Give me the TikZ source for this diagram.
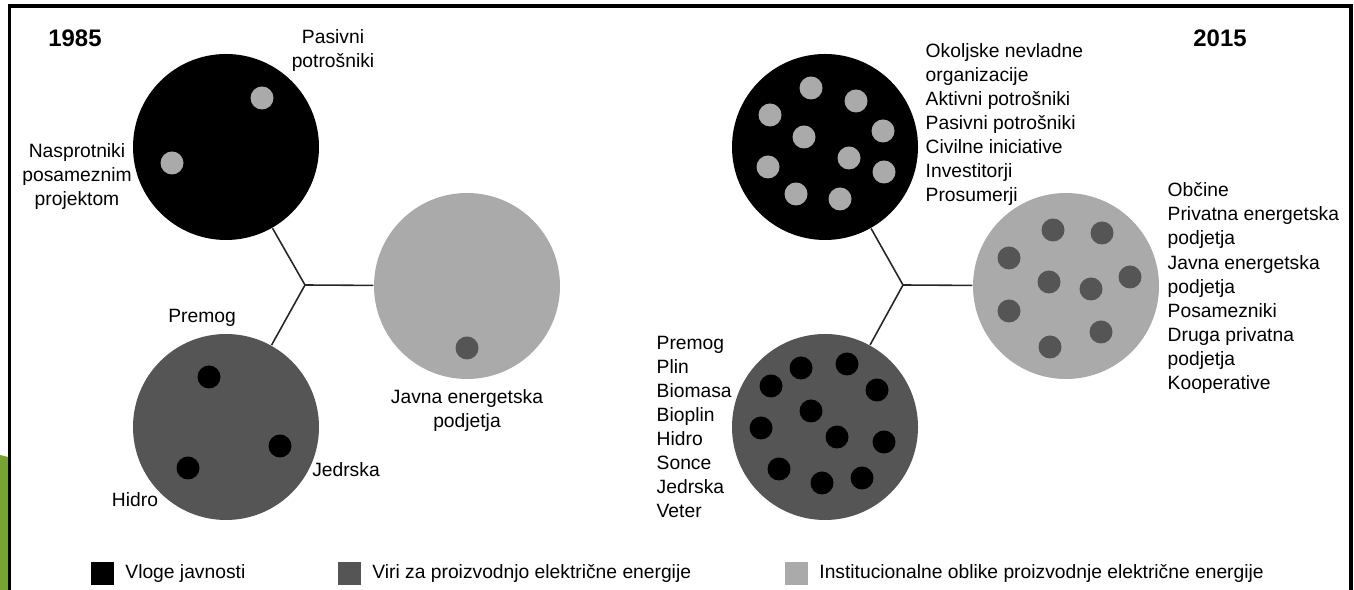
\documentclass[tikz,border=0pt]{standalone}
\usepackage{fontspec}
\setmainfont{Liberation Sans}
\usetikzlibrary{positioning}

\definecolor{srednja}{HTML}{555555}
\definecolor{svetla}{HTML}{AAAAAA}
\definecolor{zelena}{HTML}{76A433}

\tikzset{
  krog/.style={circle, minimum size=1.86cm, inner sep=0pt},
  pika/.style={circle, minimum size=0.23cm, inner sep=0pt},
  kvadrat/.style={minimum size=0.23cm, inner sep=0pt},
  oznaka/.style={font=\fontsize{5.48}{6.83}\selectfont, inner sep=0pt},
  leto/.style={font=\fontsize{6.8}{8}\selectfont\bfseries, inner sep=0pt},
  vez/.style={line width=0.45pt, draw=black!85}
}

\begin{document}
\begin{tikzpicture}
                    \useasboundingbox (0,0) rectangle (13.54,-5.90);
                    \fill[zelena] (0,-4.55)--(0.08,-4.57)--(0.08,-5.90)--(0,-5.90)--cycle;
                    \draw[line width=1.1pt] (0.095,-5.90)--(0.095,-0.06)--(13.51,-0.06)--(13.51,-5.90);
                    % 1985
                    \node[leto] (l85) at (0.75,-0.38) {1985};
                    \node[krog, fill=black] (jav85) at (2.26,-1.47) {};
                    \node[krog, fill=svetla] (ins85) at (4.67,-2.86) {};
                    \node[krog, fill=srednja] (vir85) at (2.26,-4.27) {};
                    \coordinate (st85) at (3.05,-2.85);
                    \draw[vez] (st85)--(jav85);
                    \draw[vez] (st85)--(vir85);
                    \draw[vez] (st85)--(ins85);
                    \foreach \x/\y [count=\i] in {2.62/0.98, 1.72/1.63}
                        \node[pika, fill=svetla] (jp\i) at (\x,-\y) {};
                    \foreach \x/\y [count=\i] in {2.09/3.77, 2.80/4.46, 1.88/4.68}
                        \node[pika, fill=black] (vp\i) at (\x,-\y) {};
                    \node[pika, fill=srednja] (ip1) at (4.67,-3.48) {};
                    \node[oznaka, align=center] (pas85) at (3.33,-0.51) {Pasivni\\potrošniki};
                    \node[oznaka, align=center] (nas85) at (0.77,-1.77) {Nasprotniki\\posameznim\\projektom};
                    \node[oznaka] (pre85) at (2.02,-3.18) {Premog};
                    \node[oznaka] (jed85) at (3.46,-4.70) {Jedrska};
                    \node[oznaka] (hid85) at (1.35,-5.00) {Hidro};
                    \node[oznaka, align=center] (jep85) at (4.67,-4.11) {Javna energetska\\podjetja};
                    % 2015
                    \node[leto] (l15) at (12.20,-0.38) {2015};
                    \node[krog, fill=black] (jav15) at (8.25,-1.47) {};
                    \node[krog, fill=svetla] (ins15) at (10.66,-2.86) {};
                    \node[krog, fill=srednja] (vir15) at (8.25,-4.27) {};
                    \coordinate (st15) at (9.03,-2.85);
                    \draw[vez] (st15)--(jav15);
                    \draw[vez] (st15)--(vir15);
                    \draw[vez] (st15)--(ins15);
                    \foreach \x/\y [count=\i] in {8.11/0.88, 8.56/1.01, 7.70/1.15, 8.83/1.31, 8.04/1.37,
                                                   8.49/1.58, 7.68/1.67, 8.84/1.72, 7.96/1.94, 8.40/1.99}
                        \node[pika, fill=svetla] (jq\i) at (\x,-\y) {};
                    \foreach \x/\y [count=\i] in {10.53/2.30, 11.02/2.33, 10.09/2.58, 10.49/2.82, 10.91/2.89,
                                                   11.30/2.77, 10.09/3.11, 11.01/3.32, 10.50/3.47}
                        \node[pika, fill=srednja] (iq\i) at (\x,-\y) {};
                    \foreach \x/\y [count=\i] in {8.01/3.68, 8.47/3.64, 7.71/3.86, 8.77/3.90, 8.11/4.11, 7.61/4.28,
                                                   8.37/4.37, 8.84/4.42, 7.79/4.69, 8.62/4.78, 8.22/4.83}
                        \node[pika, fill=black] (vq\i) at (\x,-\y) {};
                    \node[oznaka, align=left, anchor=west] (jav15t) at (9.25,-1.245)
                        {Okoljske nevladne\\organizacije\\Aktivni potrošniki\\Pasivni potrošniki\\Civilne iniciative\\Investitorji\\Prosumerji};
                    \node[oznaka, align=left, anchor=west] (ins15t) at (11.67,-2.88)
                        {Občine\\Privatna energetska\\podjetja\\Javna energetska\\podjetja\\Posamezniki\\Druga privatna\\podjetja\\Kooperative};
                    \node[oznaka, align=left, anchor=west] (vir15t) at (6.56,-4.27)
                        {Premog\\Plin\\Biomasa\\Bioplin\\Hidro\\Sonce\\Jedrska\\Veter};
                    % legenda
                    \node[kvadrat, fill=black] (lg1) at (1.025,-5.735) {};
                    \node[kvadrat, fill=srednja] (lg2) at (3.495,-5.735) {};
                    \node[kvadrat, fill=svetla] (lg3) at (7.965,-5.735) {};
                    \node[oznaka, right=0.10cm of lg1] (lg1t) {Vloge javnosti};
                    \node[oznaka, right=0.10cm of lg2] (lg2t) {Viri za proizvodnjo električne energije};
                    \node[oznaka, right=0.10cm of lg3] (lg3t) {Institucionalne oblike proizvodnje električne energije};
            \end{tikzpicture}
\end{document}
